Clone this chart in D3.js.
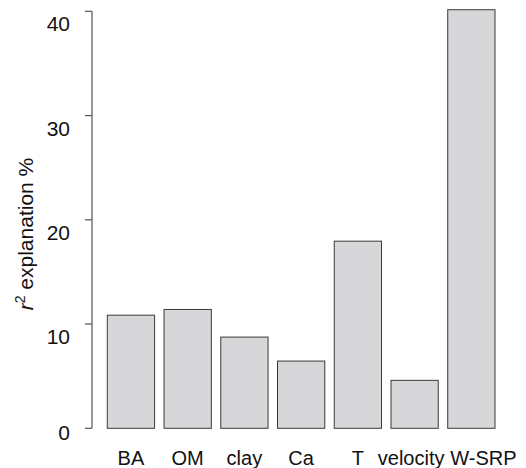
<!DOCTYPE html>
<html>
<head>
<meta charset="UTF-8">
<script src="https://cdn.jsdelivr.net/npm/d3@7"></script>
<style>
  body { margin: 0; background: #fff; }
  text { font-family: "Liberation Sans", Arial, sans-serif; fill: #111; }
</style>
</head>
<body>
<div id="chart"></div>
<script>
const categories = ["BA", "OM", "clay", "Ca", "T", "velocity", "W-SRP"]
const values = [10.85, 11.4, 8.75, 6.45, 17.95, 4.6, 40.15]
const tickValues = [0, 10, 20, 30, 40]

const width = 526
const height = 468

const svg = d3.select("#chart")
    .append("svg")
    .attr("width", width)
    .attr("height", height)

const x = d3.scaleBand()
    .domain(categories)
    .range([107.3, 495])
    .paddingInner(0.2 / 1.2)
    .paddingOuter(0)

const y = d3.scaleLinear()
    .domain([0, 40])
    .range([428.3, 11.3])

// bars
svg.selectAll("rect.bar")
    .data(values)
    .enter()
    .append("rect")
    .attr("class", "bar")
    .attr("x", (d, i) => x(categories[i]))
    .attr("y", d => y(d))
    .attr("width", x.bandwidth())
    .attr("height", d => y(0) - y(d))
    .attr("fill", "#d7d7d9")
    .attr("stroke", "#3a3a3a")
    .attr("stroke-width", 1)

// y axis
const axisX = 92
svg.append("line")
    .attr("x1", axisX).attr("x2", axisX)
    .attr("y1", y(0)).attr("y2", y(40))
    .attr("stroke", "#555")
    .attr("stroke-width", 1.2)

svg.selectAll("line.tick")
    .data(tickValues)
    .enter()
    .append("line")
    .attr("class", "tick")
    .attr("x1", axisX - 7).attr("x2", axisX)
    .attr("y1", d => y(d)).attr("y2", d => y(d))
    .attr("stroke", "#555")
    .attr("stroke-width", 1.2)

svg.selectAll("text.ytick")
    .data(tickValues)
    .enter()
    .append("text")
    .attr("class", "ytick")
    .attr("x", 70)
    .attr("y", d => y(d) + (d === 0 ? 4.5 : 12.5))
    .attr("text-anchor", "end")
    .attr("dominant-baseline", "central")
    .style("font-size", "21px")
    .text(d => d)

// x labels (last two nudged apart so they don't collide)
const nudge = { "velocity": -3.5, "W-SRP": 12 }
svg.selectAll("text.xlab")
    .data(categories)
    .enter()
    .append("text")
    .attr("class", "xlab")
    .attr("x", d => x(d) + x.bandwidth() / 2 + (nudge[d] || 0))
    .attr("y", 465)
    .attr("text-anchor", "middle")
    .style("font-size", "20px")
    .text(d => d)

// y label
const ylab = svg.append("text")
    .attr("transform", "translate(33,234) rotate(-90)")
    .attr("text-anchor", "middle")
    .style("font-size", "21px")

ylab.append("tspan").style("font-style", "italic").text("r")
ylab.append("tspan").attr("dy", -8).style("font-size", "14px").text("2")
ylab.append("tspan").attr("dy", 8).text(" explanation %")
</script>
</body>
</html>
